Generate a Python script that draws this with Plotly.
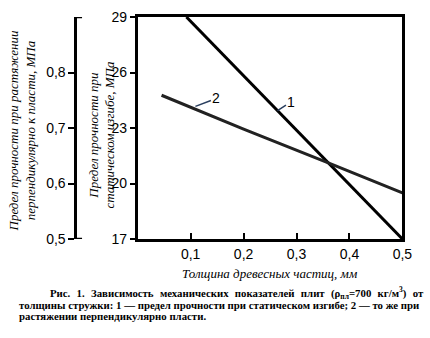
import plotly.graph_objects as go

# Data
thickness_1 = [0.092, 0.5]            # mm
bending_strength = [29.0, 17.0]       # MPa (curve 1, inner axis)

thickness_2 = [0.045, 0.1, 0.2, 0.36, 0.5]
tensile_strength = [0.759, 0.737, 0.698, 0.637, 0.583]  # MPa (curve 2, outer axis)

x_ticks = [0.1, 0.2, 0.3, 0.4, 0.5]
x_ticktext = ["0,1", "0,2", "0,3", "0,4", "0,5"]
y1_ticks = [17, 20, 23, 26, 29]
y2_ticks = [0.5, 0.6, 0.7, 0.8]
y2_ticktext = ["0,5", "0,6", "0,7", "0,8"]

W, H = 430, 338
L_PX, R_PX, T_PX, B_PX = 141, 412, 17, 239
def px(x):
    return x / W
def py(y):
    return (B_PX - y) / (B_PX - T_PX)

tickfont = dict(family="Liberation Sans, Arial, sans-serif", size=14, color="black")
serif = "Liberation Serif"

fig = go.Figure()
fig.add_trace(go.Scatter(x=thickness_1, y=bending_strength, mode="lines",
                         line=dict(color="black", width=3), yaxis="y", showlegend=False))
fig.add_trace(go.Scatter(x=thickness_2, y=tensile_strength, mode="lines",
                         line=dict(color="#222", width=3), yaxis="y2", showlegend=False))

fig.update_layout(
    width=W, height=H,
    margin=dict(l=0, r=0, t=T_PX, b=H - B_PX, pad=0),
    paper_bgcolor="white", plot_bgcolor="white",
    showlegend=False,
    xaxis=dict(domain=[px(L_PX), px(R_PX)], range=[0, 0.5],
               tickvals=x_ticks, ticktext=x_ticktext, ticks="inside", ticklen=6,
               tickwidth=2, tickcolor="black", showline=True, linecolor="black",
               linewidth=2.5, mirror=True, showgrid=False, zeroline=False,
               tickfont=tickfont),
    yaxis=dict(range=[17, 29], tickvals=y1_ticks, ticks="outside", ticklen=5,
               tickwidth=2, tickcolor="black", showline=True, linecolor="black",
               linewidth=2.5, mirror=True, showgrid=False, zeroline=False,
               tickfont=tickfont),
    yaxis2=dict(range=[0.5, 0.9], overlaying="y", anchor="free", side="left",
                position=px(77), tickvals=y2_ticks, ticktext=y2_ticktext,
                ticks="outside", ticklen=6, tickwidth=2, tickcolor="black",
                showline=True, linecolor="black", linewidth=2.5, showgrid=False,
                zeroline=False, tickfont=tickfont),
)

# end caps of outer axis
for yv in [0.5, 0.9]:
    fig.add_shape(type="line", xref="paper", yref="y2", x0=px(77), x1=px(84),
                  y0=yv, y1=yv, line=dict(color="black", width=2.5))

# curve labels
fig.add_annotation(x=0.264, y=23.94, xref="x", yref="y", text="1", showarrow=True,
                   arrowhead=0, arrowwidth=1.5, ax=14, ay=-9, standoff=0,
                   font=dict(family="Liberation Sans, Arial", size=14, color="black"))
fig.add_annotation(x=0.109, y=0.739, xref="x", yref="y2", text="2", showarrow=True,
                   arrowhead=0, arrowwidth=1.5, ax=21, ay=-8, standoff=0,
                   font=dict(family="Liberation Sans, Arial", size=14, color="black"))

# axis titles
title_font = dict(family=serif, size=13, color="black", style="italic")
fig.add_annotation(x=px(104), y=py(135), xref="paper", yref="paper",
                   xanchor="center", yanchor="middle",
                   text="Предел прочности при<br>статическом изгибе, МПа", textangle=-90,
                   showarrow=False, font=title_font)
fig.add_annotation(x=px(23), y=py(131), xref="paper", yref="paper",
                   xanchor="center", yanchor="middle",
                   text="Предел прочности при растяжении<br>перпендикулярно к пласти, МПа", textangle=-90,
                   showarrow=False, font=title_font)
fig.add_annotation(x=px(276), y=py(273), xref="paper", yref="paper",
                   xanchor="center", yanchor="middle",
                   text="Толщина древесных частиц, мм",
                   showarrow=False, font=title_font)

# caption
cap_font = dict(family=serif, size=10.8, color="black", weight="bold")
gap = " \u00a0\u200a"
line1 = gap.join(["Рис.", "1.", "Зависимость", "механических", "показателей", "плит",
                  "(ρ<sub>пл</sub>=700", "кг/м<sup>3</sup>)", "от"])
captions = [
    (49, 293, line1),
    (17, 305, "толщины стружки: 1 — предел прочности при статическом изгибе; 2 — то же при"),
    (17, 316, "растяжении перпендикулярно пласти."),
]
for xp, yp, t in captions:
    fig.add_annotation(x=px(xp), y=py(yp), xref="paper", yref="paper", text=t,
                       showarrow=False, xanchor="left", yanchor="middle", font=cap_font)

fig.write_html("out.html")
